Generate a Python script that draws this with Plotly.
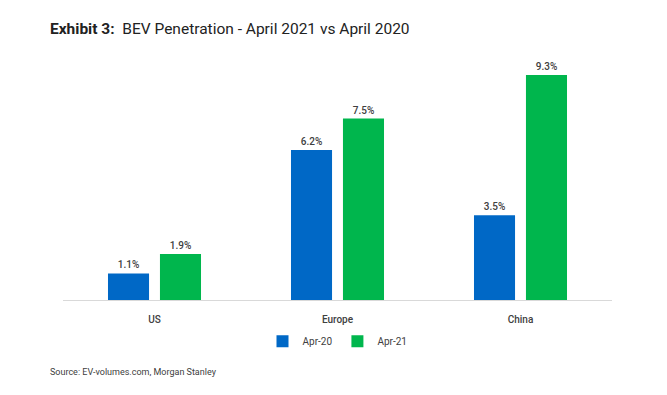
import plotly.graph_objects as go

categories = ["US", "Europe", "China"]
apr20 = [1.1, 6.2, 3.5]
apr21 = [1.9, 7.5, 9.3]
series_names = ["Apr-20", "Apr-21"]

blue = "#0068C6"
green = "#00B64D"

fig = go.Figure()
for name, vals, col in [(series_names[0], apr20, blue), (series_names[1], apr21, green)]:
    fig.add_trace(go.Bar(
        x=categories, y=vals, name=name,
        marker=dict(color=col, line=dict(width=0)),
        text=[f"{v:.1f}%" for v in vals], textposition="outside",
        textfont=dict(family="Roboto", size=10, color="#404040", weight=500),
        cliponaxis=False,
    ))

fig.update_layout(
    width=659, height=387,
    margin=dict(l=55, r=55, t=50, b=95, autoexpand=False),
    paper_bgcolor="white", plot_bgcolor="white",
    barmode="group", bargap=0.432, bargroupgap=0.21,
    showlegend=True,
    legend=dict(orientation="h", x=0.5, xanchor="center", y=-0.17, yanchor="middle",
                font=dict(family="Roboto", size=10, color="#404040"),
                itemwidth=30, tracegroupgap=0),
    font=dict(family="Roboto"),
    xaxis=dict(showline=True, linecolor="#D9D9D9", linewidth=1, ticks="",
               ticklabelstandoff=10,
               tickfont=dict(family="Roboto", size=10, color="#404040", weight=500),
               showgrid=False),
    yaxis=dict(range=[0, 10], visible=False, showgrid=False, zeroline=False),
    annotations=[
        dict(text="<b>Exhibit 3:</b>  BEV Penetration - April 2021 vs April 2020",
             xref="paper", yref="paper", x=-0.028, y=1.0, xanchor="left", yanchor="middle",
             yshift=29, showarrow=False,
             font=dict(family="Roboto", size=15.5, color="#222222")),
        dict(text="Source: EV-volumes.com, Morgan Stanley",
             xref="paper", yref="paper", x=-0.028, y=0, xanchor="left", yanchor="middle",
             yshift=-72, showarrow=False,
             font=dict(family="Roboto", size=9, color="#404040")),
    ],
)
fig.write_html("out.html")
